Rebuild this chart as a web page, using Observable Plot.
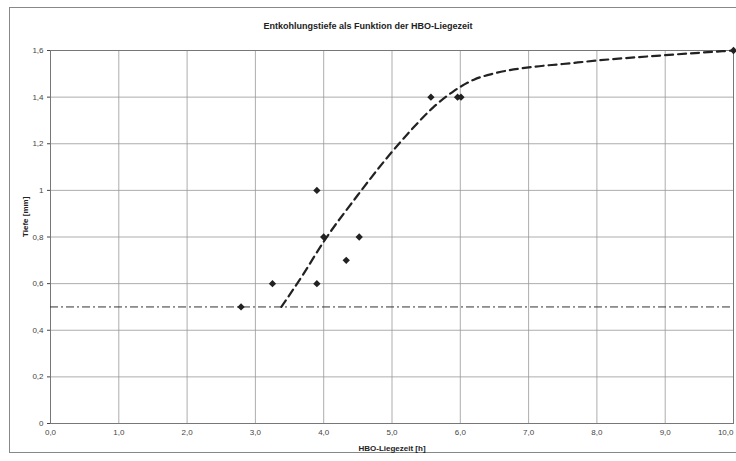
<!DOCTYPE html>
<html>
<head>
<meta charset="utf-8">
<script src="https://cdn.jsdelivr.net/npm/d3@7"></script>
<script src="https://cdn.jsdelivr.net/npm/@observablehq/plot@0.6"></script>
<style>
  body { margin: 0; background: #fff; font-family: "Liberation Sans", Arial, sans-serif; }
  #wrap { position: relative; width: 736px; height: 461px; overflow: hidden; }
  #border { position: absolute; left: 9px; top: 7px; width: 740px; height: 444px; border: 1px solid #888; }
  #title { position: absolute; left: 0; width: 736px; top: 21px; text-align: center; font-size: 9px; font-weight: bold; color: #222; }
  svg { position: absolute; left: 0; top: 0; }
</style>
</head>
<body>
<div id="wrap"><div id="border"></div><div id="title">Entkohlungstiefe als Funktion der HBO-Liegezeit</div></div>
<script>
const pointX = [2.79, 3.25, 3.90, 4.00, 3.90, 4.33, 4.52, 5.57, 5.96, 6.01, 10.0];
const pointY = [0.5, 0.6, 1.0, 0.8, 0.6, 0.7, 0.8, 1.4, 1.4, 1.4, 1.6];
const curveX = [3.38, 3.7, 4.0, 4.5, 4.9, 5.3, 5.6, 5.9, 6.2, 6.5, 7.07, 7.5, 8.0, 9.0, 10.0];
const curveY = [0.5, 0.64, 0.78, 0.98, 1.13, 1.265, 1.355, 1.425, 1.475, 1.502, 1.53, 1.542, 1.557, 1.58, 1.6];
const thresholdY = [0.5];
const xTicks = [0, 1, 2, 3, 4, 5, 6, 7, 8, 9, 10];
const xTickLabels = ["0,0", "1,0", "2,0", "3,0", "4,0", "5,0", "6,0", "7,0", "8,0", "9,0", "10,0"];
const yTicks = [0, 0.2, 0.4, 0.6, 0.8, 1.0, 1.2, 1.4, 1.6];
const yTickLabels = ["0", "0,2", "0,4", "0,6", "0,8", "1", "1,2", "1,4", "1,6"];
const xTitle = "HBO-Liegezeit [h]";
const yTitle = "Tiefe [mm]";

const points = pointX.map((x, i) => ({x, y: pointY[i]}));
const curve = curveX.map((x, i) => ({x, y: curveY[i]}));
const xLab = xTicks.map((x, i) => ({x, label: xTickLabels[i]}));
const xLabInner = xLab.slice(0, -1);
const xLabLast = xLab.slice(-1);

const chart = Plot.plot({
  width: 736,
  height: 461,
  marginLeft: 50,
  marginTop: 50,
  marginRight: 3,
  marginBottom: 38,
  style: {fontFamily: "Liberation Sans, Arial, sans-serif", fontSize: "8px", color: "#333", background: "transparent"},
  x: {domain: [0, 10], label: null, axis: null},
  y: {domain: [0, 1.6], label: null, axis: null},
  marks: [
    Plot.gridX(xTicks, {stroke: "#999", strokeOpacity: 0.8, strokeWidth: 1}),
    Plot.gridY(yTicks, {stroke: "#999", strokeOpacity: 0.8, strokeWidth: 1}),
    Plot.frame({stroke: "#777", strokeWidth: 1}),
    Plot.ruleY(thresholdY, {stroke: "#333", strokeWidth: 1, strokeDasharray: "8,3,2,3"}),
    Plot.line(curve, {x: "x", y: "y", curve: "monotone-x", stroke: "#222", strokeWidth: 2.2, strokeDasharray: "8,5"}),
    Plot.dot(points, {x: "x", y: "y", symbol: "diamond2", r: 3.3, fill: "#222", stroke: "none"}),
    Plot.text(xLabInner, {x: "x", text: "label", frameAnchor: "bottom", dy: 11, fontSize: 8, fill: "#444"}),
    Plot.text(xLabLast, {x: "x", text: "label", frameAnchor: "bottom", dy: 11, textAnchor: "end", dx: 0, fontSize: 8, fill: "#444"}),
    Plot.axisY({ticks: yTicks, tickFormat: (d) => yTickLabels[yTicks.findIndex(t => Math.abs(t - d) < 1e-9)], tickSize: 3, tickPadding: 4, label: null, color: "#444"}),
    Plot.text([xTitle], {frameAnchor: "bottom", dy: 27, fontWeight: "bold", fontSize: 8, fill: "#222"}),
    Plot.text([yTitle], {frameAnchor: "left", dx: -25, rotate: -90, fontWeight: "bold", fontSize: 8, fill: "#222"})
  ]
});
document.getElementById("wrap").appendChild(chart);
</script>
</body>
</html>
